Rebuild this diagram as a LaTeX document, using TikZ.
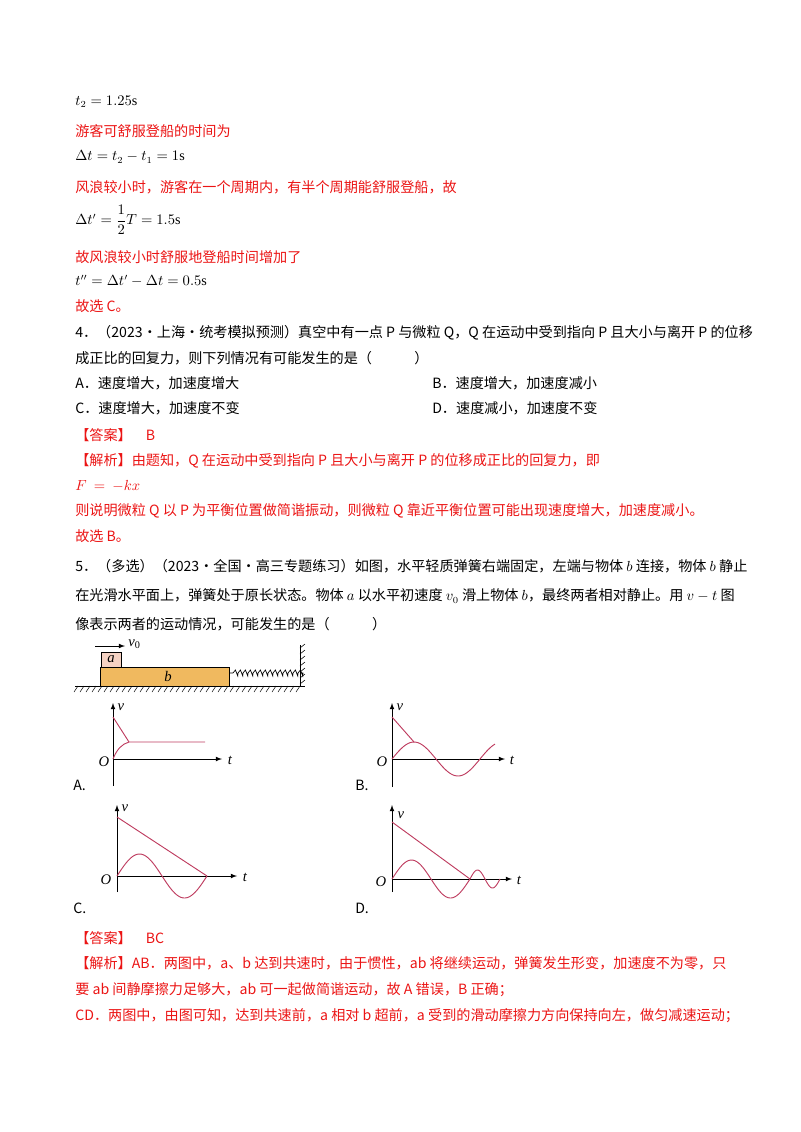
\documentclass[tikz,border=0pt]{standalone}
\usepackage{amsmath}
\usepackage{fontspec}
\setmainfont{Liberation Serif}
\newfontfamily\cjk{Noto Sans CJK SC}
\definecolor{ans}{RGB}{235,20,20}
\definecolor{crv}{RGB}{190,60,95}
\definecolor{bfill}{RGB}{240,185,95}
\definecolor{afill}{RGB}{245,210,195}
\begin{document}
\begin{tikzpicture}[x=0.75pt,y=-0.75pt,
  txt/.style={anchor=west,inner sep=0,font=\fontsize{10.6pt}{12pt}\selectfont\cjk},
  red/.style={text=ans},
  ax/.style={line width=0.6pt,-latex},
  cv/.style={crv,line width=0.7pt},
  lab/.style={inner sep=0,font=\fontsize{11pt}{12pt}\selectfont\itshape}]
\useasboundingbox (0,0) rectangle (800,1132);
\node[txt] (l1) at (75,102) {$t_2=1.25\mathrm{s}$};
\node[txt,red] (l2) at (75,131) {游客可舒服登船的时间为};
\node[txt] (l3) at (75,157) {$\Delta t=t_2-t_1=1\mathrm{s}$};
\node[txt,red] (l4) at (75,187) {风浪较小时，游客在一个周期内，有半个周期能舒服登船，故};
\node[txt] (l5) at (75,220) {$\Delta t'=\dfrac12T=1.5\mathrm{s}$};
\node[txt,red] (l6) at (75,257) {故风浪较小时舒服地登船时间增加了};
\node[txt] (l7) at (75,281) {$t''=\Delta t'-\Delta t=0.5\mathrm{s}$};
\node[txt,red] (l8) at (75,306) {故选 C。};
\node[txt] (q4) at (75,333) {4．（2023·上海·统考模拟预测）真空中有一点 \textit{P} 与微粒 Q，Q 在运动中受到指向 \textit{P} 且大小与离开 \textit{P} 的位移};
\node[txt] (q4b) at (75,358) {成正比的回复力，则下列情况有可能发生的是（\hspace{3em}）};
\node[txt] (oA) at (75,383) {A．速度增大，加速度增大};
\node[txt] (oB) at (432,383) {B．速度增大，加速度减小};
\node[txt] (oC) at (75,408) {C．速度增大，加速度不变};
\node[txt] (oD) at (432,408) {D．速度减小，加速度不变};
\node[txt,red] (a4) at (75,435) {【答案】\hspace{1em}B};
\node[txt,red] (j4) at (75,461) {【解析】由题知，Q 在运动中受到指向 \textit{P} 且大小与离开 \textit{P} 的位移成正比的回复力，即};
\node[txt,red] (f4) at (75,486) {$F\ =\ -kx$};
\node[txt,red] (j4b) at (75,511) {则说明微粒 Q 以 \textit{P} 为平衡位置做简谐振动，则微粒 Q 靠近平衡位置可能出现速度增大，加速度减小。};
\node[txt,red] (s4) at (75,536) {故选 B。};
\node[txt] (q5) at (75,566) {5．（多选）（2023·全国·高三专题练习）如图，水平轻质弹簧右端固定，左端与物体 $b$ 连接，物体 $b$ 静止};
\node[txt] (q5b) at (75,596) {在光滑水平面上，弹簧处于原长状态。物体 $a$ 以水平初速度 $v_0$ 滑上物体 $b$，最终两者相对静止。用 $v-t$ 图};
\node[txt] (q5c) at (75,624) {像表示两者的运动情况，可能发生的是（\hspace{3em}）};
% setup figure
\draw[line width=0.6pt] (75,686) -- (305,686);
\foreach \x in {78,84,...,302} \draw[line width=0.4pt] (\x,686) -- ++(-4,6);
\draw[fill=bfill,line width=0.6pt] (100,667) rectangle (229,686);
\node[lab] (bl) at (168,676) {b};
\draw[fill=afill,line width=0.6pt] (101,652) rectangle (121,667);
\node[lab] (al) at (111,659) {a};
\coordinate (v0s) at (95,646); \coordinate (v0e) at (125,646);
\draw[-latex,line width=0.6pt] (v0s) -- (v0e);
\node[lab,anchor=west] (v0) at (128,644) {v\textsubscript{\upshape 0}};
\draw[line width=0.5pt] (229,673) -- (233,673) \foreach \i in {0,...,13} {-- ++(2.4,-3) -- ++(2.4,6) -- ++(0.2,-3)} -- (300,673);
\draw[line width=0.6pt] (300,645) -- (300,686);
\foreach \y in {648,654,...,684} \draw[line width=0.4pt] (300,\y) -- ++(5,-4);
% graph A
\coordinate (Ao) at (113,759);
\draw[ax] (113,786) -- (113,703); \draw[ax] (Ao) -- (222,759);
\node[lab] (Av) at (121,707) {v}; \node[lab] (At) at (230,760) {t}; \node[lab] (AO) at (104,762) {O};
\node[txt] (Al) at (73,785) {A.};
\draw[cv] (113,717) -- (129,742) -- (205,742);
\draw[cv] (Ao) .. controls (117,749) and (122,744) .. (129,742);
% graph B
\coordinate (Bo) at (392,759);
\draw[ax] (392,787) -- (392,703); \draw[ax] (Bo) -- (505,759);
\node[lab] (Bv) at (400,707) {v}; \node[lab] (Bt) at (512,760) {t}; \node[lab] (BO) at (382,762) {O};
\node[txt] (Bl) at (355,785) {B.};
\draw[cv] (392,717) -- (414,742);
\draw[cv,domain=0:103,samples=60,smooth] plot ({392+\x},{759-17*sin(4.0909*\x)});
% graph C
\coordinate (Co) at (117,876);
\draw[ax] (117,892) -- (117,805); \draw[ax] (Co) -- (237,876);
\node[lab] (Cv) at (125,808) {v}; \node[lab] (Ct) at (245,877) {t}; \node[lab] (CO) at (106,880) {O};
\node[txt] (Cl) at (73,908) {C.};
\draw[cv] (117,817) -- (207,876);
\draw[cv,domain=0:90,samples=60,smooth] plot ({117+\x},{876-22*sin(4*\x)});
% graph D
\coordinate (Do) at (392,879);
\draw[ax] (392,892) -- (392,805); \draw[ax] (Do) -- (512,879);
\node[lab] (Dv) at (401,815) {v}; \node[lab] (Dt) at (519,880) {t}; \node[lab] (DO) at (381,882) {O};
\node[txt] (Dl) at (355,908) {D.};
\draw[cv] (392,822) -- (470,879);
\draw[cv,domain=0:78,samples=60,smooth] plot ({392+\x},{879-19*sin(4.6154*\x)});
\draw[cv,domain=0:30,samples=30,smooth] plot ({470+\x},{879-9*sin(12*\x)});
% answer 5
\node[txt,red] (a5) at (75,938) {【答案】\hspace{1em}BC};
\node[txt,red] (j5) at (75,963) {【解析】AB．两图中，\textit{a}、\textit{b} 达到共速时，由于惯性，\textit{ab} 将继续运动，弹簧发生形变，加速度不为零，只};
\node[txt,red] (j5b) at (75,990) {要 \textit{ab} 间静摩擦力足够大，\textit{ab} 可一起做简谐运动，故 A 错误，B 正确；};
\node[txt,red] (j5c) at (75,1016) {CD．两图中，由图可知，达到共速前，\textit{a} 相对 \textit{b} 超前，\textit{a} 受到的滑动摩擦力方向保持向左，做匀减速运动；};
\end{tikzpicture}
\end{document}
